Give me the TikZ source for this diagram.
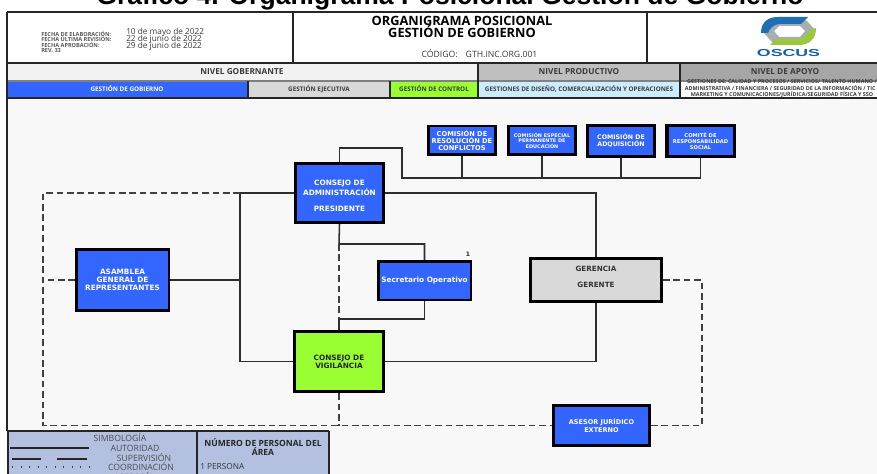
\documentclass[tikz,border=0pt]{standalone}
\usepackage{fontspec}
\setmainfont{Open Sans}
\newfontfamily\boxfont{DejaVu Sans}
\newfontfamily\arialfont{Liberation Sans}
\definecolor{bluebox}{HTML}{3366FF}
\definecolor{greenbox}{HTML}{99FF33}
\definecolor{greybox}{HTML}{D9D9D9}
\definecolor{lightblue}{HTML}{CCECFF}
\definecolor{legendblue}{HTML}{B4C0E0}
\definecolor{paper}{HTML}{F8F8F8}
\definecolor{row}{HTML}{F2F2F2}
\definecolor{grey1}{HTML}{BFBFBF}
\definecolor{grey2}{HTML}{A6A6A6}
\definecolor{inktext}{HTML}{3A3A3A}
\definecolor{logoblue}{HTML}{1F6FB5}
\definecolor{logogreen}{HTML}{9CC63C}
\definecolor{logogrey}{HTML}{A7ADB0}
\definecolor{logotext}{HTML}{1560A8}
\tikzset{
  orgbox/.style={draw=black,rectangle,inner sep=0pt,align=center,font=\boxfont\bfseries\fontsize{5.5pt}{6.2pt}\selectfont},
  bluecard/.style={orgbox,fill=bluebox,text=white},
  thin card/.style={line width=1.9pt},
  thick card/.style={line width=2.6pt},
  link/.style={draw=black!82,line width=1.15pt},
  dashlink/.style={draw=black!75,line width=1.15pt,dash pattern=on 5pt off 2.8pt},
  rule/.style={draw=black!85,line width=1.4pt},
  cell/.style={rectangle,inner sep=0pt,text=inktext,align=center},
  hdr/.style={cell,font=\bfseries\fontsize{6.2pt}{7pt}\selectfont},
  lvl/.style={cell,font=\bfseries\fontsize{4.75pt}{5.4pt}\selectfont},
  tiny/.style={cell,font=\bfseries\fontsize{4.2pt}{4.1pt}\selectfont},
  datecell/.style={cell,anchor=west,font=\fontsize{6.2pt}{7pt}\selectfont},
  legend/.style={cell,text=black!70,font=\fontsize{6.5pt}{7pt}\selectfont},
  area/.style={cell,text=black!85,font=\bfseries\fontsize{6.4pt}{6pt}\selectfont},
}
\begin{document}
\begin{tikzpicture}[x=0.75pt,y=-0.75pt]
\clip (0,0) rectangle (877,474);
\fill[white] (0,0) rectangle (877,474);
\fill[paper] (7,98) rectangle (877,474);
% title
\node[anchor=base,inner sep=0pt,font=\arialfont\bfseries\fontsize{19.9pt}{21pt}\selectfont] (title) at (450,5) {Gráfico 4. Organigrama Posicional Gestión de Gobierno};
% header cells
\fill[row] (7,63) rectangle (478,81);
\fill[grey1] (478,63) rectangle (680,81);
\fill[grey2] (680,63) rectangle (877,81);
\fill[bluebox] (7,81) rectangle (248,98);
\fill[greybox] (248,81) rectangle (390,98);
\fill[greenbox] (390,81) rectangle (478,98);
\fill[lightblue] (478,81) rectangle (680,98);
\fill[white] (680,81) rectangle (877,98);
\draw[rule] (7,12) -- (877,12);
\draw[rule] (7,63) -- (877,63);
\draw[rule,draw=black!50,line width=.8pt] (7,81) -- (877,81);
\draw[rule] (7,98) -- (877,98);
\draw[rule] (7,12) -- (7,431);
\draw[rule] (293,12) -- (293,63);
\draw[rule] (647,12) -- (647,63);
\draw[rule] (478,63) -- (478,98);
\draw[rule] (680,63) -- (680,98);
\draw[rule] (248,81) -- (248,98);
\draw[rule] (390,81) -- (390,98);
% header text
\node[tiny,anchor=west,text=black!65] (f1) at (41,33.5) {FECHA DE ELABORACIÓN:};
\node[tiny,anchor=west,text=black!65] (f2) at (41,39) {FECHA ÚLTIMA REVISIÓN:};
\node[tiny,anchor=west,text=black!65] (f3) at (41,44.5) {FECHA APROBACIÓN:};
\node[tiny,anchor=west,text=black!65] (f4) at (41,51) {REV. 33};
\node[datecell] (d1) at (126,32) {10 de mayo de 2022};
\node[datecell] (d2) at (126,39) {22 de junio de 2022};
\node[datecell] (d3) at (126,46) {29 de junio de 2022};
\node[cell,text=black,font=\bfseries\fontsize{9.6pt}{10pt}\selectfont] (t1) at (462,20.5) {ORGANIGRAMA POSICIONAL};
\node[cell,text=black,font=\bfseries\fontsize{9.6pt}{10pt}\selectfont] (t2) at (462,32) {GESTIÓN DE GOBIERNO};
\node[cell,font=\fontsize{6.5pt}{7pt}\selectfont] (cod) at (479.5,54) {CÓDIGO:\hspace{6pt}GTH.INC.ORG.001};
\node[hdr] (n1) at (242,71.5) {NIVEL GOBERNANTE};
\node[hdr] (n2) at (579,71.5) {NIVEL PRODUCTIVO};
\node[hdr] (n3) at (785,71.5) {NIVEL DE APOYO};
\node[lvl,text=white] (g1) at (127,89) {GESTIÓN DE GOBIERNO};
\node[lvl] (g2) at (319,89) {GESTIÓN EJECUTIVA};
\node[lvl] (g3) at (434,89) {GESTIÓN DE CONTROL};
\node[lvl] (g4) at (579,89) {GESTIONES DE DISEÑO, COMERCIALIZACIÓN Y OPERACIONES};
\node[tiny,font=\bfseries\fontsize{4.05pt}{3.75pt}\selectfont] (g5) at (782,89) {GESTIONES DE:  CALIDAD Y PROCESOS / SERVICIOS/ TALENTO HUMANO /\\ADMINISTRATIVA / FINANCIERA / SEGURIDAD DE LA INFORMACIÓN / TIC /\\MARKETING Y COMUNICACIONES/JURÍDICA/SEGURIDAD FÍSICA Y SSO};
% logo
\fill[logogrey,even odd rule] (773,20) -- (806,20) -- (816,31) -- (806,43) -- (773,43) -- (762,31) -- cycle
  (779,26) -- (800,26) -- (805,31) -- (800,37) -- (779,37) -- (774,31) -- cycle;
\fill[logoblue] (761,33) .. controls (761,22) and (768,17) .. (778,17) -- (808,17) -- (801,24) -- (780,24) .. controls (774,24) and (770,28) .. (768,33) -- cycle;
\fill[logogreen] (816,28) .. controls (816,39) and (809,45) .. (799,45) -- (770,45) -- (776,39) -- (798,39) .. controls (804,39) and (807,34) .. (809,30) -- cycle;
\node[inner sep=0pt,text=logotext,xscale=1.75,transform shape,font=\arialfont\bfseries\fontsize{7.6pt}{8pt}\selectfont] (logo) at (788.5,53.5) {OSCUS};
% boxes
\node[bluecard,thick card,minimum width=66pt,minimum height=44.25pt] (admin) at (339.5,193) {\rule{0pt}{8.5pt}CONSEJO DE\\ADMINISTRACIÓN\\[6pt]PRESIDENTE};
\node[bluecard,thin card,minimum width=50.6pt,minimum height=21.4pt,font=\boxfont\bfseries\fontsize{5pt}{5pt}\selectfont] (c1) at (462,140.5) {COMISIÓN DE\\RESOLUCIÓN DE\\CONFLICTOS};
\node[bluecard,thin card,minimum width=50.6pt,minimum height=21.4pt,font=\boxfont\bfseries\fontsize{3.7pt}{4pt}\selectfont] (c2) at (542,140.5) {COMISIÓN ESPECIAL\\PERMANENTE DE\\EDUCACIÓN};
\node[bluecard,thick card,minimum width=49.9pt,minimum height=22.9pt,font=\boxfont\bfseries\fontsize{4.7pt}{5.2pt}\selectfont] (c3) at (621,141) {COMISIÓN DE\\ADQUISICIÓN};
\node[bluecard,thick card,minimum width=50.6pt,minimum height=22.9pt,font=\boxfont\bfseries\fontsize{3.9pt}{4.5pt}\selectfont] (c4) at (700.5,141) {COMITÉ DE\\RESPONSABILIDAD\\SOCIAL};
\node[orgbox,thin card,fill=greybox,text=black!80,minimum width=98.6pt,minimum height=32.6pt,font=\boxfont\bfseries\fontsize{5.4pt}{7.5pt}\selectfont] (ger) at (596,280) {GERENCIA\\[4.5pt]GERENTE\rule[-4.5pt]{0pt}{4.5pt}};
\node[bluecard,thin card,minimum width=69.4pt,minimum height=28.9pt] (sec) at (424.5,280.5) {Secretario Operativo};
\node[orgbox,thick card,fill=greenbox,text=black!85,minimum width=66.75pt,minimum height=45pt] (vig) at (339,361.5) {CONSEJO DE\\VIGILANCIA};
\node[bluecard,thick card,minimum width=72pt,minimum height=30pt,font=\boxfont\bfseries\fontsize{4.9pt}{5.4pt}\selectfont] (ase) at (601.5,425.5) {ASESOR JURÍDICO\\EXTERNO};
\node[bluecard,thin card,minimum width=69.4pt,minimum height=46.1pt] (asa) at (122.5,280) {ASAMBLEA\\GENERAL DE\\REPRESENTANTES};
\node[inner sep=0pt,text=black!85,font=\boxfont\bfseries\fontsize{4.5pt}{5pt}\selectfont] (num) at (468,254) {1};
% connector waypoints
\coordinate (busL) at (402,178);
\coordinate (busR) at (701,178);
\coordinate (busT) at (402,148);
\coordinate (jL) at (240,193);
\coordinate (jV) at (240,361.5);
\coordinate (jA) at (240,280);
\coordinate (jS) at (339,244);
\coordinate (jW) at (339,319);
\coordinate (jB) at (339,425.5);
\coordinate (dTL) at (43,193);
\coordinate (dBL) at (43,425.5);
\coordinate (dM) at (43,280);
\coordinate (dTR) at (702,281);
\coordinate (dBR) at (702,425.5);
% solid connectors
\draw[link] (admin.north) |- (busT) -- (busL) -- (busR);
\draw[link] (c1.south) -- (c1.south |- busL);
\draw[link] (c2.south) -- (c2.south |- busL);
\draw[link] (c3.south) -- (c3.south |- busL);
\draw[link] (c4.south) -- (c4.south |- busL);
\draw[link] (admin.east) -| (ger.north);
\draw[link] (vig.east) -| (ger.south);
\draw[link] (admin.west) -- (jL) -- (jV) -- (vig.west);
\draw[link] (asa.east) -- (jA);
\draw[link] (admin.south) -- (jS) -| (sec.north);
\draw[link] (sec.south) |- (jW) -- (vig.north);
% dashed connectors
\draw[dashlink] (jS) -- (jW);
\draw[dashlink] (jL) -- (dTL) -- (dBL) -- (ase.west);
\draw[dashlink] (asa.west) -- (dM);
\draw[dashlink] (vig.south) -- (jB);
\draw[dashlink] (ger.east) -- (ger.east -| dTR) -- (dBR) -- (ase.east);
% legend
\fill[legendblue] (8,431) rectangle (196,474);
\fill[legendblue] (197,431) rectangle (329,474);
\draw[rule] (8,431) -- (329,431);
\draw[rule] (197,431) -- (197,474);
\draw[rule] (329,431) -- (329,474);
\draw[rule] (8,431) -- (8,474);
\coordinate (s1a) at (10,448); \coordinate (s1b) at (89,448);
\coordinate (s2a) at (12,459); \coordinate (s2b) at (41,459);
\coordinate (s3a) at (57,459); \coordinate (s3b) at (87,459);
\coordinate (s4a) at (12,467); \coordinate (s4b) at (92,467);
\draw[black!85,line width=1pt] (s1a) -- (s1b);
\draw[black!85,line width=.9pt] (s2a) -- (s2b);
\draw[black!85,line width=.9pt] (s3a) -- (s3b);
\draw[black!75,line width=.8pt,dash pattern=on .8pt off 5.6pt] (s4a) -- (s4b);
\node[legend] (l0) at (120,438) {SIMBOLOGÍA};
\node[legend] (l1) at (135,448) {AUTORIDAD};
\node[legend] (l2) at (144,457.5) {SUPERVISIÓN};
\node[legend] (l3) at (141,466.5) {COORDINACIÓN};
\node[legend] (l4) at (134,477) {ASESORÍA};
\node[area] (a1) at (263,447) {NÚMERO DE PERSONAL DEL\\ÁREA};
\node[legend,anchor=west,text=black!80,font=\fontsize{6.2pt}{7pt}\selectfont] (a2) at (200,467) {1 PERSONA};
\end{tikzpicture}
\end{document}
